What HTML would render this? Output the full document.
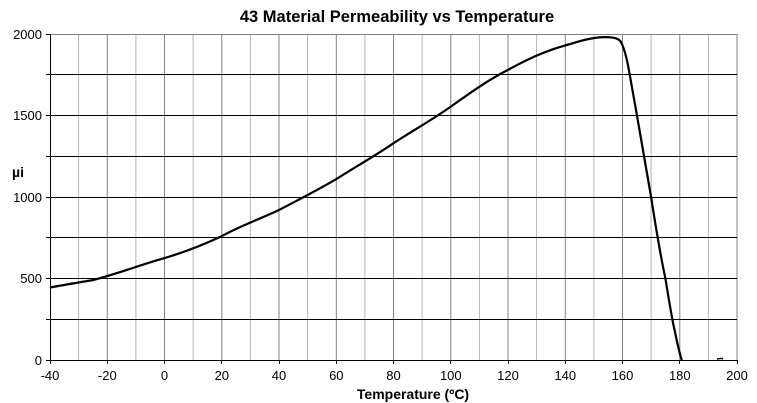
<!DOCTYPE html>
<html><head><meta charset="utf-8"><style>
html,body{margin:0;padding:0;background:#fff;}
svg{display:block;font-family:"Liberation Sans",Arial,sans-serif;}
</style></head><body>
<svg width="757" height="403" viewBox="0 0 757 403" xmlns="http://www.w3.org/2000/svg">
<rect width="757" height="403" fill="#fff"/>
<g stroke="#b4b4b4" stroke-width="1">
<line x1="78.6" y1="34" x2="78.6" y2="360"/><line x1="135.9" y1="34" x2="135.9" y2="360"/>
<line x1="193.1" y1="34" x2="193.1" y2="360"/><line x1="250.4" y1="34" x2="250.4" y2="360"/>
<line x1="307.6" y1="34" x2="307.6" y2="360"/><line x1="364.9" y1="34" x2="364.9" y2="360"/>
<line x1="422.1" y1="34" x2="422.1" y2="360"/><line x1="479.4" y1="34" x2="479.4" y2="360"/>
<line x1="536.6" y1="34" x2="536.6" y2="360"/><line x1="593.9" y1="34" x2="593.9" y2="360"/>
<line x1="651.1" y1="34" x2="651.1" y2="360"/><line x1="708.4" y1="34" x2="708.4" y2="360"/>
</g>
<g stroke="#808080" stroke-width="1">
<line x1="107.3" y1="34" x2="107.3" y2="360"/><line x1="164.5" y1="34" x2="164.5" y2="360"/>
<line x1="221.8" y1="34" x2="221.8" y2="360"/><line x1="279" y1="34" x2="279" y2="360"/>
<line x1="336.3" y1="34" x2="336.3" y2="360"/><line x1="393.5" y1="34" x2="393.5" y2="360"/>
<line x1="450.8" y1="34" x2="450.8" y2="360"/><line x1="508" y1="34" x2="508" y2="360"/>
<line x1="565.3" y1="34" x2="565.3" y2="360"/><line x1="622.5" y1="34" x2="622.5" y2="360"/>
<line x1="679.8" y1="34" x2="679.8" y2="360"/><line x1="737" y1="34" x2="737" y2="360"/>
<line x1="50" y1="34.5" x2="737" y2="34.5"/>
</g>
<g stroke="#000" stroke-width="1">
<line x1="46" y1="74.5" x2="737" y2="74.5"/><line x1="46" y1="115.5" x2="737" y2="115.5"/>
<line x1="46" y1="156.5" x2="737" y2="156.5"/><line x1="46" y1="197.5" x2="737" y2="197.5"/>
<line x1="46" y1="237.5" x2="737" y2="237.5"/><line x1="46" y1="278.5" x2="737" y2="278.5"/>
<line x1="46" y1="319.5" x2="737" y2="319.5"/>
<line x1="46" y1="34.5" x2="50" y2="34.5"/>
<line x1="50.5" y1="34" x2="50.5" y2="360"/>
<line x1="46" y1="360.5" x2="737" y2="360.5"/>
</g>
<g stroke="#000" stroke-width="1">
<line x1="50.5" y1="360" x2="50.5" y2="364"/><line x1="107.5" y1="360" x2="107.5" y2="364"/>
<line x1="164.5" y1="360" x2="164.5" y2="364"/><line x1="221.5" y1="360" x2="221.5" y2="364"/>
<line x1="279.5" y1="360" x2="279.5" y2="364"/><line x1="336.5" y1="360" x2="336.5" y2="364"/>
<line x1="393.5" y1="360" x2="393.5" y2="364"/><line x1="450.5" y1="360" x2="450.5" y2="364"/>
<line x1="508.5" y1="360" x2="508.5" y2="364"/><line x1="565.5" y1="360" x2="565.5" y2="364"/>
<line x1="622.5" y1="360" x2="622.5" y2="364"/><line x1="679.5" y1="360" x2="679.5" y2="364"/>
<line x1="737.5" y1="360" x2="737.5" y2="364"/>
</g>
<path d="M50,287.5 C70,284 80,282 92.9,280.1 C120,273 140,265 164.5,258.1 C185,252 205,244 221.8,236.1 C240,226 260,219 279,210 C300,199 318,190 336.3,179.1 C355,167 375,156 393.5,143.2 C412,131 432,120 450.8,106.6 C470,93 488,80 508,69.9 C528,59 545,51 565.3,45.4 C578,42 585,39 593.9,38.1 C600,37 605,37 610,37.3 C616,37.8 619,39 621,42 C624,48 626,55 628.3,66.6 C636,110 645,160 651.1,197 C657,235 661,258 665.4,278.5 C669,300 672,320 675,332 C677,342 679,352 681.8,360" fill="none" stroke="#000" stroke-width="2.2"/>
<path d="M717,359 C719,358.5 721,358.3 723,358.6" fill="none" stroke="#000" stroke-width="1.5"/>
<g font-size="13" fill="#000" text-anchor="end">
<text x="42" y="39">2000</text><text x="42" y="120">1500</text>
<text x="42" y="202">1000</text><text x="42" y="283">500</text><text x="42" y="365">0</text>
</g>
<g font-size="13" fill="#000" text-anchor="middle">
<text x="50" y="380">-40</text><text x="107.3" y="380">-20</text><text x="164.5" y="380">0</text>
<text x="221.8" y="380">20</text><text x="279" y="380">40</text><text x="336.3" y="380">60</text>
<text x="393.5" y="380">80</text><text x="450.8" y="380">100</text><text x="508" y="380">120</text>
<text x="565.3" y="380">140</text><text x="622.5" y="380">160</text><text x="679.8" y="380">180</text>
<text x="737" y="380">200</text>
</g>
<text x="18" y="177" font-size="14" font-weight="bold" text-anchor="middle">µi</text>
<text x="397" y="22" font-size="16.5" font-weight="bold" text-anchor="middle">43 Material Permeability vs Temperature</text>
<text x="413" y="399" font-size="14" font-weight="bold" text-anchor="middle">Temperature (ºC)</text>
</svg>
</body></html>
